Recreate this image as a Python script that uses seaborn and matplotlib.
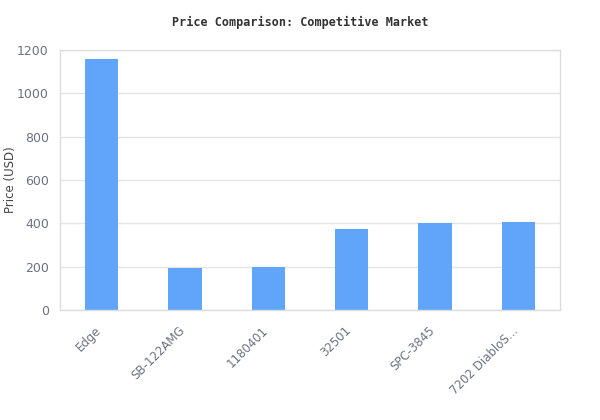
import matplotlib
matplotlib.use("Agg")
import matplotlib.pyplot as plt
import matplotlib.transforms as mtransforms
import seaborn as sns
import pandas as pd

# --- Data ---
products = ["Edge", "SB-122AMG", "1180401", "32501", "SPC-3845", "7202 DiabloS..."]
prices = [1157, 196, 200, 375, 402, 406]

df = pd.DataFrame({"product": products, "price": prices})

sns.set_theme(style="white")
plt.rcParams["font.family"] = ["DejaVu Sans"]

fig = plt.figure(figsize=(6, 4.2), dpi=100)
ax = fig.add_axes([60 / 600, 1 - 310 / 420, 500 / 600, 260 / 420])

sns.barplot(data=df, x="product", y="price", color="#60a5fa", width=0.4,
            saturation=1, linewidth=0, ax=ax, zorder=2)

ax.set_ylim(0, 1200)
ax.set_yticks(range(0, 1201, 200))
ax.grid(axis="y", color="#e5e5e5", linewidth=1, zorder=0)
ax.set_axisbelow(True)

for s in ax.spines.values():
    s.set_color("#dddddd")
    s.set_linewidth(1)

tick_col = "#6b7280"
ax.tick_params(axis="y", labelsize=9, colors=tick_col, length=0, pad=8)
ax.tick_params(axis="x", labelsize=8.5, colors=tick_col, length=0, pad=10)
# nudge rotated labels left so they sit like the reference
shift = mtransforms.ScaledTranslation(-7 / 100, 0, fig.dpi_scale_trans)
for lbl in ax.get_xticklabels():
    lbl.set_rotation(45)
    lbl.set_ha("right")
    lbl.set_rotation_mode("anchor")
    lbl.set_transform(lbl.get_transform() + shift)

ax.set_xlabel("")
ax.set_ylabel("Price (USD)", fontsize=8.5, color="#444444")
ax.yaxis.set_label_coords(-0.085, 0.5)

fig.text(0.5, 1 - 22 / 420, "Price Comparison: Competitive Market",
         ha="center", va="center", fontsize=8.5, fontweight="bold",
         family="DejaVu Sans Mono", color="#333333")

fig.savefig("out.png", dpi=100)
plt.close(fig)
